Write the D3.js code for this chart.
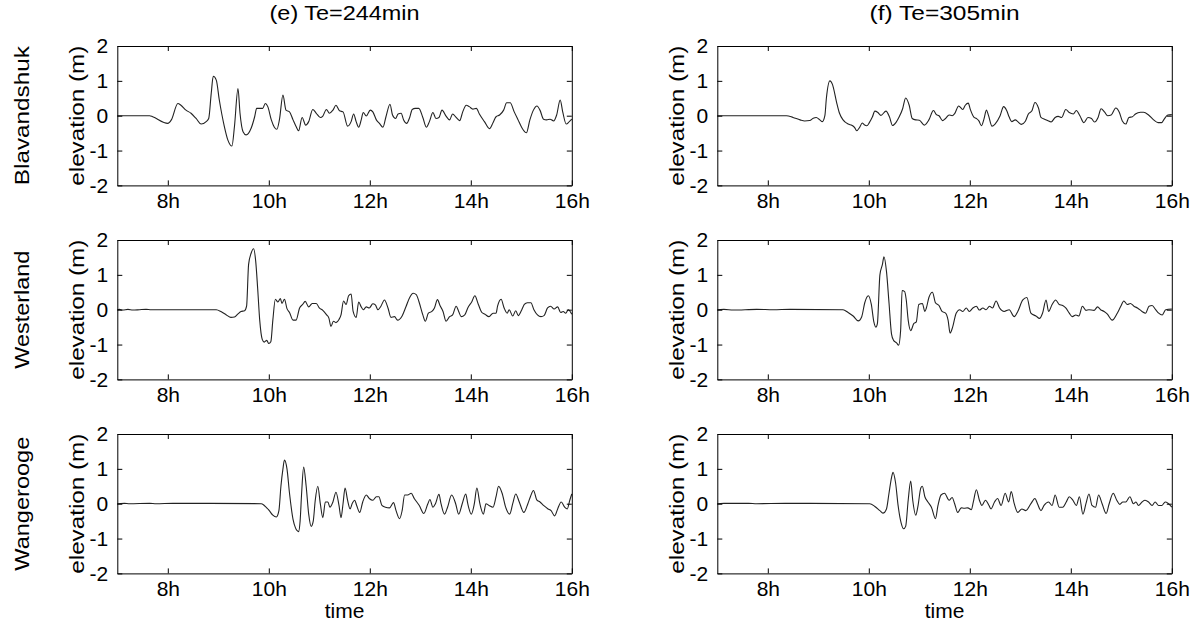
<!DOCTYPE html>
<html><head><meta charset="utf-8">
<script src="https://cdn.jsdelivr.net/npm/d3@7"></script>
<style>
html,body{margin:0;padding:0;background:#fff;}
svg{display:block;font-family:Arial,"Liberation Sans",sans-serif;}
</style></head>
<body>
<svg id="chart" width="1200" height="623"></svg>
<script>
// ---------------- DATA ----------------
const columnTitles = ["(e) Te=244min", "(f) Te=305min"];
const stations = ["Blavandshuk", "Westerland", "Wangerooge"];
const xTickValues = [8, 10, 12, 14, 16];
const xTickLabels = ["8h", "10h", "12h", "14h", "16h"];
const yTickValues = [-2, -1, 0, 1, 2];
const yTickLabels = ["-2", "-1", "0", "1", "2"];
const xLabel = "time";
const yLabel = "elevation (m)";

// Blavandshuk, Te=244min
const blavE_t = [7.0,7.64,7.70,8.00,8.07,8.20,8.26,8.36,8.46,8.56,8.66,8.76,8.81,8.86,8.90,8.96,9.02,9.12,9.19,9.27,9.32,9.39,9.43,9.49,9.55,9.65,9.72,9.76,9.83,9.88,9.93,9.98,10.05,10.11,10.16,10.21,10.28,10.34,10.41,10.48,10.54,10.59,10.66,10.73,10.79,10.87,10.94,11.02,11.07,11.14,11.20,11.27,11.33,11.40,11.47,11.56,11.63,11.68,11.73,11.78,11.83,11.87,11.93,12.01,12.06,12.13,12.19,12.26,12.32,12.40,12.45,12.51,12.56,12.62,12.67,12.73,12.79,12.84,12.90,12.97,13.05,13.12,13.18,13.25,13.31,13.37,13.43,13.51,13.58,13.64,13.71,13.78,13.84,13.91,13.97,14.04,14.11,14.17,14.27,14.37,14.44,14.50,14.57,14.65,14.71,14.78,14.86,14.93,15.03,15.10,15.17,15.24,15.31,15.37,15.44,15.50,15.57,15.64,15.70,15.77,15.82,15.89,15.95,16.0];
const blavE_v = [0,0,-0.03,-0.22,-0.12,0.35,0.30,0.16,0.07,-0.08,-0.24,-0.17,-0.08,0.64,1.13,1.02,0.45,-0.31,-0.70,-0.87,-0.31,0.78,0.07,-0.46,-0.55,-0.36,-0.03,0.21,0.21,0.21,0.35,0.26,-0.12,-0.33,-0.39,-0.12,0.59,0.16,0.11,-0.12,-0.31,-0.43,-0.05,-0.27,-0.17,0.18,0.07,-0.05,-0.01,0.18,0.07,0.16,0.30,0.14,0.11,-0.30,-0.17,0.05,-0.17,-0.33,-0.12,0.09,-0.01,0.16,0.11,-0.12,-0.22,-0.33,-0.03,0.33,0.02,-0.08,0.05,0.07,-0.12,-0.22,-0.05,0.18,0.21,0.21,-0.05,-0.33,-0.17,0.09,-0.08,-0.05,0.16,-0.01,-0.12,0.05,-0.05,-0.14,0.11,0.30,0.26,0.19,0.21,0.05,-0.17,-0.37,-0.20,-0.03,0.02,0.16,0.37,0.37,0.11,-0.10,-0.39,-0.49,-0.12,0.16,0.28,0.16,-0.10,-0.12,-0.10,-0.15,0.02,0.45,0.11,-0.24,-0.17,-0.10];

// Blavandshuk, Te=305min
const blavF_t = [7.0,8.37,8.50,8.64,8.73,8.83,8.90,8.96,9.03,9.08,9.13,9.16,9.23,9.28,9.36,9.42,9.49,9.59,9.67,9.72,9.76,9.82,9.87,9.91,9.96,10.01,10.07,10.12,10.18,10.24,10.34,10.41,10.47,10.54,10.60,10.67,10.73,10.80,10.86,10.93,11.00,11.10,11.19,11.28,11.34,11.39,11.46,11.52,11.59,11.65,11.70,11.78,11.86,11.91,11.97,12.01,12.08,12.13,12.18,12.23,12.28,12.33,12.37,12.44,12.50,12.60,12.67,12.73,12.78,12.83,12.90,12.95,13.02,13.10,13.16,13.23,13.29,13.36,13.41,13.48,13.54,13.61,13.69,13.75,13.82,13.90,13.97,14.05,14.11,14.18,14.26,14.34,14.41,14.47,14.54,14.60,14.67,14.73,14.80,14.89,14.96,15.02,15.09,15.15,15.22,15.28,15.38,15.44,15.54,15.64,15.73,15.80,15.84,15.92,16.0];
const blavF_v = [0,0,-0.05,-0.12,-0.15,-0.14,-0.07,-0.05,-0.12,-0.17,0.0,0.5,1.0,0.9,0.4,0.07,-0.12,-0.24,-0.28,-0.34,-0.43,-0.33,-0.21,-0.26,-0.29,-0.2,-0.04,0.13,0.09,0.01,0.13,-0.04,-0.28,-0.19,-0.04,0.2,0.51,0.3,-0.08,-0.12,-0.13,-0.27,-0.12,0.15,0.03,0.0,-0.14,-0.08,0.02,0.0,0.06,0.28,0.18,0.30,0.36,0.18,-0.04,-0.08,-0.15,-0.29,-0.1,0.16,0.01,-0.3,-0.24,0.0,0.26,0.15,-0.04,-0.17,-0.12,-0.17,-0.25,-0.16,0.05,0.14,0.38,0.22,-0.05,-0.1,-0.14,-0.18,-0.05,-0.02,-0.05,0.18,0.09,0.05,0.15,0.0,-0.2,-0.05,-0.08,-0.18,-0.05,0.2,0.1,0.0,0.02,0.22,0.1,-0.15,-0.24,-0.05,-0.03,0.05,0.1,0.1,0.02,-0.12,-0.2,-0.2,-0.12,0.02,0.03];

// Westerland, Te=244min
const westE_t = [7.0,7.04,7.11,7.21,7.31,7.44,7.57,7.67,8.96,9.06,9.16,9.25,9.32,9.39,9.45,9.52,9.56,9.60,9.65,9.70,9.74,9.78,9.82,9.87,9.91,9.96,10.00,10.04,10.08,10.13,10.18,10.23,10.26,10.31,10.36,10.41,10.48,10.54,10.61,10.67,10.72,10.79,10.86,10.94,11.00,11.07,11.14,11.19,11.23,11.28,11.33,11.39,11.43,11.48,11.53,11.58,11.63,11.67,11.73,11.78,11.83,11.87,11.93,11.99,12.06,12.11,12.16,12.22,12.29,12.36,12.42,12.49,12.55,12.64,12.72,12.79,12.86,12.92,12.98,13.05,13.10,13.16,13.23,13.28,13.34,13.39,13.45,13.51,13.58,13.64,13.71,13.76,13.81,13.88,13.94,14.02,14.08,14.15,14.22,14.28,14.36,14.44,14.50,14.53,14.60,14.66,14.72,14.76,14.83,14.89,14.94,15.01,15.06,15.12,15.19,15.25,15.32,15.39,15.45,15.52,15.58,15.65,15.72,15.78,15.83,15.88,15.93,16.0];
const westE_v = [0,0.01,-0.01,0.01,-0.01,0.0,0.01,0,0,-0.06,-0.15,-0.22,-0.21,-0.12,-0.05,-0.03,0.1,1.3,1.62,1.75,1.4,0.6,-0.3,-0.85,-0.93,-0.88,-0.97,-0.92,-0.3,0.3,0.22,0.32,0.18,0.3,0.03,-0.08,-0.3,-0.3,0.05,0.15,0.24,0.08,0.18,0.18,0.05,-0.02,-0.14,-0.24,-0.48,-0.33,-0.37,-0.28,-0.15,0.25,0.15,0.4,0.45,-0.05,-0.22,0.22,0.08,0.0,0.08,0.05,0.17,0.14,0.0,0.1,0.28,0.05,-0.22,-0.2,-0.3,-0.18,0.1,0.35,0.47,0.43,0.2,-0.15,-0.33,-0.1,-0.05,0.05,0.29,0.12,-0.05,-0.33,-0.2,-0.15,0.1,-0.05,-0.2,-0.15,0.05,0.23,0.4,0.15,-0.08,-0.13,-0.2,-0.1,-0.1,0.1,0.3,0.05,-0.1,0.0,-0.18,-0.03,-0.17,0.0,0.15,0.2,0.2,0.0,-0.15,-0.2,-0.17,0.05,0.1,0.02,0.08,-0.08,-0.05,-0.1,0.0,-0.13];

// Westerland, Te=305min
const westF_t = [7.0,7.13,7.32,7.78,8.11,8.44,9.49,9.59,9.69,9.79,9.86,9.92,9.99,10.05,10.10,10.14,10.17,10.22,10.27,10.30,10.35,10.40,10.45,10.49,10.55,10.59,10.63,10.66,10.71,10.74,10.78,10.83,10.89,10.94,10.99,11.06,11.11,11.14,11.19,11.26,11.32,11.39,11.45,11.52,11.57,11.61,11.66,11.73,11.80,11.86,11.93,11.99,12.06,12.13,12.19,12.26,12.32,12.39,12.45,12.52,12.59,12.68,12.78,12.88,12.95,13.05,13.13,13.21,13.31,13.38,13.44,13.51,13.56,13.63,13.70,13.77,13.84,13.90,13.97,14.03,14.10,14.16,14.23,14.30,14.36,14.46,14.53,14.59,14.66,14.72,14.82,14.92,14.99,15.05,15.12,15.18,15.25,15.32,15.41,15.48,15.55,15.61,15.68,15.74,15.81,15.88,16.0];
const westF_v = [0,0.01,-0.01,0.01,0.0,0.01,0,-0.08,-0.18,-0.32,-0.2,0.2,0.4,0.15,-0.35,-0.5,-0.4,1.0,1.3,1.52,1.1,0.2,-0.7,-0.88,-0.95,-1.02,-0.6,0.55,0.52,0.3,-0.3,-0.6,-0.4,-0.35,0.15,0.18,-0.05,0.05,0.35,0.5,0.2,0.12,-0.05,-0.1,-0.3,-0.67,-0.5,-0.1,0.0,-0.05,0.05,-0.05,0.05,0.1,-0.01,0.05,0.0,0.1,0.05,0.25,0.05,-0.05,0.0,-0.2,-0.05,0.28,0.35,-0.1,-0.18,-0.25,-0.1,0.28,-0.05,0.15,0.28,0.15,0.12,0.05,-0.1,-0.2,-0.15,-0.18,0.1,-0.02,0.0,-0.02,0.08,0.0,-0.05,-0.12,-0.3,-0.1,0.1,0.25,0.15,0.18,0.1,0.05,-0.05,-0.1,0.1,0.12,0.0,-0.1,-0.15,0.0,0.02];

// Wangerooge, Te=244min
const wangE_t = [7.0,7.14,7.24,7.64,7.77,8.10,8.36,8.83,9.85,9.91,10.01,10.08,10.15,10.20,10.24,10.28,10.31,10.36,10.41,10.48,10.53,10.59,10.62,10.65,10.69,10.74,10.79,10.84,10.88,10.92,10.97,11.02,11.07,11.12,11.17,11.21,11.27,11.33,11.39,11.43,11.47,11.51,11.56,11.61,11.65,11.70,11.74,11.80,11.86,11.93,11.99,12.06,12.13,12.18,12.24,12.31,12.39,12.47,12.52,12.59,12.64,12.69,12.75,12.82,12.88,12.98,13.07,13.15,13.19,13.25,13.30,13.37,13.41,13.48,13.54,13.62,13.70,13.76,13.83,13.90,13.94,14.01,14.07,14.12,14.18,14.25,14.30,14.36,14.44,14.50,14.55,14.62,14.69,14.77,14.83,14.89,14.96,15.05,15.13,15.18,15.24,15.31,15.37,15.44,15.53,15.59,15.66,15.72,15.79,15.86,15.91,15.96,16.0];
const wangE_v = [0,0.01,0,0.01,0,0.01,0.01,0.01,0,-0.05,-0.2,-0.33,-0.38,-0.2,0.5,1.0,1.25,1.0,0.3,-0.45,-0.7,-0.8,-0.5,0.3,1.05,0.5,-0.3,-0.65,-0.5,0.1,0.5,0.0,-0.4,0.05,0.05,-0.1,0.05,0.33,-0.05,-0.4,0.0,0.45,0.1,-0.15,0.0,0.1,-0.05,-0.25,0.05,0.25,0.15,0.1,0.2,0.2,-0.05,-0.1,-0.12,0.03,-0.2,-0.43,-0.2,0.25,0.25,0.3,0.15,-0.05,-0.28,0.0,0.12,-0.1,0.0,0.27,0.0,-0.3,-0.1,0.25,0.0,-0.3,0.0,0.28,0.0,-0.3,0.0,0.45,0.0,-0.3,0.0,-0.05,-0.1,0.2,0.5,0.3,-0.1,-0.3,0.0,0.28,0.05,-0.25,0.0,0.2,0.38,0.1,0.05,-0.05,-0.15,-0.2,-0.35,-0.15,0.05,-0.1,-0.15,0.1,0.28];

// Wangerooge, Te=305min
const wangF_t = [7.0,7.13,7.62,7.78,8.34,8.84,10.02,10.12,10.22,10.28,10.35,10.40,10.45,10.48,10.53,10.58,10.64,10.69,10.73,10.78,10.83,10.87,10.93,10.97,11.03,11.06,11.11,11.17,11.24,11.32,11.37,11.43,11.50,11.59,11.65,11.70,11.76,11.83,11.89,11.96,12.03,12.07,12.13,12.19,12.24,12.31,12.38,12.42,12.49,12.55,12.62,12.70,12.77,12.82,12.88,12.95,13.03,13.11,13.21,13.29,13.34,13.41,13.47,13.56,13.63,13.69,13.77,13.84,13.91,13.97,14.04,14.11,14.17,14.24,14.30,14.36,14.42,14.49,14.55,14.62,14.70,14.76,14.84,14.91,14.97,15.03,15.09,15.17,15.24,15.29,15.34,15.41,15.47,15.54,15.61,15.67,15.74,15.80,15.87,16.0];
const wangF_v = [0,0.01,0.01,0.0,0.01,0.01,0,-0.08,-0.2,-0.27,-0.15,0.3,0.75,0.9,0.6,-0.05,-0.55,-0.72,-0.65,0.1,0.65,0.1,-0.33,-0.1,0.45,0.5,0.2,0.05,-0.1,-0.43,-0.05,0.25,0.3,0.1,0.18,0.0,-0.25,-0.12,-0.13,-0.12,-0.17,0.05,0.4,0.1,-0.05,0.1,-0.05,-0.15,0.05,0.15,-0.05,0.3,0.05,0.35,0.0,-0.25,-0.15,-0.2,0.0,0.15,0.0,-0.2,-0.05,0.05,-0.05,0.25,-0.1,-0.1,0.05,0.2,0.1,-0.05,0.2,-0.3,0.0,0.28,-0.05,-0.1,0.25,0.0,-0.28,0.0,0.3,0.1,-0.02,0.05,0.05,0.2,0.0,0.05,-0.05,0.05,0.1,0.05,-0.05,0.05,-0.05,-0.05,0.05,-0.1];

const panelSeries = [
  [[blavE_t, blavE_v], [blavF_t, blavF_v]],
  [[westE_t, westE_v], [westF_t, westF_v]],
  [[wangE_t, wangE_v], [wangF_t, wangF_v]]
];

// ---------------- LAYOUT ----------------
const colX = [117.3, 717.3];
const plotW = 454.5;
const rowY = [46, 240, 434];
const plotH = 139.4;
const tickFont = 21;
const FONT = "Arial, 'Liberation Sans', sans-serif";
const stationLen = [139, 118, 134];

const svg = d3.select("#chart");

const x = d3.scaleLinear().domain([7, 16]).range([0, plotW]);
const y = d3.scaleLinear().domain([-2, 2]).range([plotH, 0]);

const line = d3.line()
  .x(d => x(d[0]))
  .y(d => y(d[1]))
  .curve(d3.curveMonotoneX);

for (let r = 0; r < 3; r++) {
  for (let c = 0; c < 2; c++) {
    const g = svg.append("g").attr("transform", `translate(${colX[c]},${rowY[r]})`);
    const [ts, vs] = panelSeries[r][c];
    const data = ts.map((t, i) => [t, vs[i]]);

    g.append("path").datum(data)
      .attr("d", line)
      .attr("fill", "none")
      .attr("stroke", "#222")
      .attr("stroke-width", 1.1)
      .attr("stroke-linejoin", "round");

    const fmtX = (d) => xTickLabels[xTickValues.indexOf(d)];
    const fmtY = (d) => yTickLabels[yTickValues.indexOf(d)];
    const bottom = g.append("g").attr("transform", `translate(0,${plotH})`)
      .call(d3.axisBottom(x).tickValues(xTickValues).tickFormat(fmtX).tickSizeInner(-5).tickSizeOuter(0).tickPadding(8));
    const top = g.append("g")
      .call(d3.axisTop(x).tickValues(xTickValues).tickFormat("").tickSizeInner(-5).tickSizeOuter(0));
    const left = g.append("g")
      .call(d3.axisLeft(y).tickValues(yTickValues).tickFormat(fmtY).tickSizeInner(-5).tickSizeOuter(0).tickPadding(9));
    const right = g.append("g").attr("transform", `translate(${plotW},0)`)
      .call(d3.axisRight(y).tickValues(yTickValues).tickFormat("").tickSizeInner(-5).tickSizeOuter(0));

    [bottom, top, left, right].forEach(a => {
      a.select(".domain").attr("stroke", "#000").attr("stroke-width", 1);
      a.selectAll(".tick line").attr("stroke", "#000").attr("stroke-width", 1);
      a.selectAll("text").attr("fill", "#000")
        .style("font-size", tickFont + "px")
        .style("font-family", FONT);
    });

    g.append("text")
      .attr("transform", `translate(-33,${plotH / 2}) rotate(-90)`)
      .attr("text-anchor", "middle")
      .attr("textLength", 140)
      .attr("lengthAdjust", "spacingAndGlyphs")
      .style("font-size", "20px")
      .attr("fill", "#000")
      .text(yLabel);

    if (r === 0) {
      g.append("text")
        .attr("x", plotW / 2).attr("y", -26)
        .attr("text-anchor", "middle")
        .attr("textLength", 150)
        .attr("lengthAdjust", "spacingAndGlyphs")
        .style("font-size", "20px")
        .attr("fill", "#000")
        .text(columnTitles[c]);
    }
    if (r === 2) {
      g.append("text")
        .attr("x", plotW / 2).attr("y", plotH + 45)
        .attr("text-anchor", "middle")
        .style("font-size", "21px")
        .attr("fill", "#000")
        .text(xLabel);
    }
    if (c === 0) {
      g.append("text")
        .attr("transform", `translate(-88.5,${plotH / 2}) rotate(-90)`)
        .attr("text-anchor", "middle")
        .attr("textLength", stationLen[r])
        .attr("lengthAdjust", "spacingAndGlyphs")
        .style("font-size", "21px")
        .attr("fill", "#000")
        .text(stations[r]);
    }
  }
}
</script>
</body></html>
